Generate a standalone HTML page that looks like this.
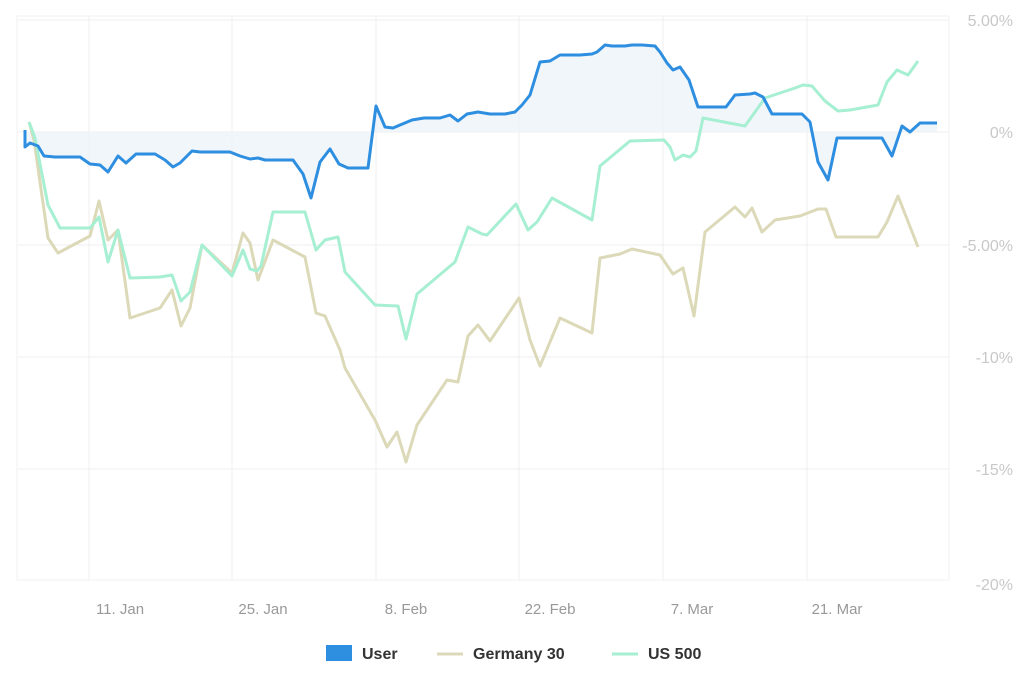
<!DOCTYPE html>
<html><head><style>body{margin:0;background:#fff}svg{display:block}</style></head><body>
<svg width="1024" height="683" xmlns="http://www.w3.org/2000/svg" font-family="Liberation Sans, sans-serif">
<rect x="17" y="16" width="932" height="564" fill="none" stroke="#f1f1f1"/>
<g stroke="#efefef" stroke-width="1">
<line x1="17" y1="20" x2="949" y2="20"/><line x1="17" y1="132" x2="949" y2="132"/><line x1="17" y1="245" x2="949" y2="245"/><line x1="17" y1="357" x2="949" y2="357"/><line x1="17" y1="469" x2="949" y2="469"/>
<line x1="89" y1="16" x2="89" y2="580"/><line x1="232" y1="16" x2="232" y2="580"/><line x1="376" y1="16" x2="376" y2="580"/><line x1="519" y1="16" x2="519" y2="580"/><line x1="663" y1="16" x2="663" y2="580"/><line x1="807" y1="16" x2="807" y2="580"/>
</g>
<polygon fill="#eef4fa" opacity="0.8" points="25,132 25,130 25,147 30,143 38,146 44,156 55,157 80,157 90,164 100,165 108,172 118,156 126,163 136,154 155,154 165,160 173,167 180,163 192,151 200,152 230,152 240,156 250,159 258,158 265,160 293,160 303,174 311,198 320,162 330,149 339,164 348,168 368,168 376,106 385,127 393,128 400,125 412,120 424,118 440,118 450,115 458,121 467,114 478,112 490,114 505,114 515,112 522,105 530,95 540,62 550,61 560,55 580,55 592,54 597,52 605,45 612,46 625,46 632,45 642,45 655,46 660,52 667,63 673,70 680,67 689,80 698,107 720,107 726,107 735,95 750,94 755,93 763,97 772,114 795,114 802,114 810,122 818,162 828,180 837,138 882,138 892,156 902,126 910,132 920,123 937,123 937,132"/>
<g fill="none" stroke-width="3" stroke-linejoin="round">
<polyline stroke="#dcd9b8" points="29,122 34,140 48,238 58,253 90,236 99,201 108,240 118,230 130,318 160,308 172,290 181,326 190,308 202,245 232,273 243,233 250,243 258,280 273,240 305,257 316,313 325,316 340,350 345,368 375,420 387,447 397,432 406,462 417,425 447,380 458,382 468,336 478,325 490,341 519,298 530,340 540,366 560,318 592,333 600,258 620,254 632,249 660,255 673,274 683,268 694,316 705,232 735,207 745,217 752,208 762,232 775,220 800,216 818,209 826,209 836,237 878,237 887,222 898,196 918,247"/>
<polyline stroke="#a6efd2" points="29,122 35,138 48,205 60,228 90,228 99,217 108,262 118,230 130,278 160,277 172,275 181,301 190,292 202,245 232,276 243,250 250,269 257,271 261,266 273,212 305,212 316,250 325,240 338,237 345,272 375,305 398,306 406,339 417,294 455,262 468,227 482,234 487,235 516,204 528,230 537,222 552,198 592,220 600,166 630,141 664,140 670,147 675,160 683,155 690,157 696,151 703,118 745,126 765,98 795,88 803,85 812,86 825,101 838,111 850,110 878,105 887,82 897,70 908,75 918,61"/>
<polyline stroke="#2e8ee0" points="25,130 25,147 30,143 38,146 44,156 55,157 80,157 90,164 100,165 108,172 118,156 126,163 136,154 155,154 165,160 173,167 180,163 192,151 200,152 230,152 240,156 250,159 258,158 265,160 293,160 303,174 311,198 320,162 330,149 339,164 348,168 368,168 376,106 385,127 393,128 400,125 412,120 424,118 440,118 450,115 458,121 467,114 478,112 490,114 505,114 515,112 522,105 530,95 540,62 550,61 560,55 580,55 592,54 597,52 605,45 612,46 625,46 632,45 642,45 655,46 660,52 667,63 673,70 680,67 689,80 698,107 720,107 726,107 735,95 750,94 755,93 763,97 772,114 795,114 802,114 810,122 818,162 828,180 837,138 882,138 892,156 902,126 910,132 920,123 937,123"/>
</g>
<g fill="#c8c8c8" font-size="16" text-anchor="end">
<text x="1013" y="26">5.00%</text><text x="1013" y="138">0%</text><text x="1013" y="251">-5.00%</text><text x="1013" y="363">-10%</text><text x="1013" y="475">-15%</text><text x="1013" y="590">-20%</text>
</g>
<g fill="#999" font-size="15" text-anchor="middle">
<text x="120" y="614">11. Jan</text><text x="263" y="614">25. Jan</text><text x="406" y="614">8. Feb</text><text x="550" y="614">22. Feb</text><text x="692" y="614">7. Mar</text><text x="837" y="614">21. Mar</text>
</g>
<g font-size="16" font-weight="bold" fill="#333">
<rect x="326" y="645" width="26" height="16" fill="#2e8ee0"/><text x="362" y="659">User</text>
<line x1="437" y1="654" x2="463" y2="654" stroke="#dcd9b8" stroke-width="3"/><text x="473" y="659">Germany 30</text>
<line x1="612" y1="654" x2="638" y2="654" stroke="#a6efd2" stroke-width="3"/><text x="648" y="659">US 500</text>
</g>
</svg>
</body></html>
